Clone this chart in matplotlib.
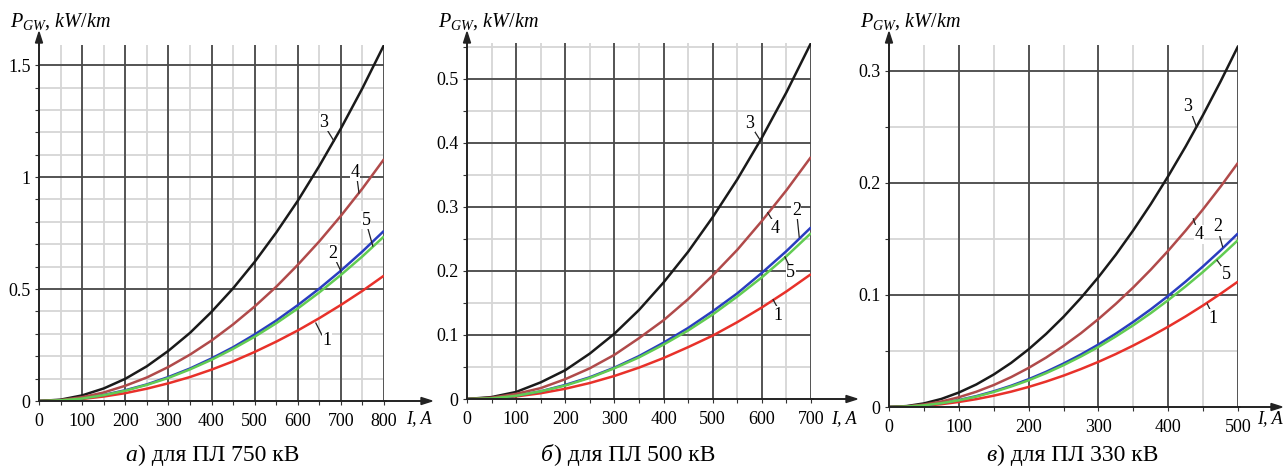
import numpy as np
import matplotlib
matplotlib.use("Agg")
import matplotlib.pyplot as plt

plt.rcParams['font.family'] = ['Liberation Serif', 'DejaVu Serif']
plt.rcParams['mathtext.fontset'] = 'custom'
plt.rcParams['mathtext.rm'] = 'Liberation Serif'
plt.rcParams['mathtext.it'] = 'Liberation Serif:italic'

# ---------------- data ----------------
current_a = [0, 50, 100, 150, 200, 250, 300, 350, 400, 450, 500, 550, 600, 650, 700, 750, 800]
a_curve1 = [0, 0.002, 0.009, 0.020, 0.035, 0.055, 0.079, 0.107, 0.140, 0.177, 0.219, 0.265, 0.315, 0.370, 0.429, 0.492, 0.560]
a_curve2 = [0, 0.003, 0.012, 0.027, 0.048, 0.074, 0.107, 0.145, 0.190, 0.240, 0.297, 0.359, 0.428, 0.502, 0.582, 0.668, 0.760]
a_curve3 = [0, 0.006, 0.025, 0.056, 0.099, 0.155, 0.224, 0.304, 0.398, 0.503, 0.621, 0.752, 0.894, 1.050, 1.217, 1.397, 1.590]
a_curve4 = [0, 0.004, 0.017, 0.038, 0.068, 0.105, 0.152, 0.207, 0.270, 0.342, 0.422, 0.510, 0.608, 0.713, 0.827, 0.949, 1.080]
a_curve5 = [0, 0.003, 0.011, 0.026, 0.046, 0.072, 0.103, 0.141, 0.184, 0.233, 0.287, 0.347, 0.413, 0.485, 0.563, 0.646, 0.735]

current_b = [0, 50, 100, 150, 200, 250, 300, 350, 400, 450, 500, 550, 600, 650, 700]
b_curve1 = [0, 0.001, 0.004, 0.009, 0.016, 0.025, 0.036, 0.049, 0.064, 0.081, 0.099, 0.120, 0.143, 0.168, 0.195]
b_curve2 = [0, 0.001, 0.005, 0.012, 0.022, 0.034, 0.049, 0.067, 0.088, 0.111, 0.137, 0.165, 0.197, 0.231, 0.268]
b_curve3 = [0, 0.003, 0.011, 0.026, 0.045, 0.071, 0.102, 0.139, 0.182, 0.230, 0.284, 0.343, 0.408, 0.479, 0.556]
b_curve4 = [0, 0.002, 0.008, 0.017, 0.031, 0.048, 0.069, 0.095, 0.123, 0.156, 0.193, 0.233, 0.278, 0.326, 0.378]
b_curve5 = [0, 0.001, 0.005, 0.012, 0.021, 0.033, 0.048, 0.065, 0.085, 0.107, 0.132, 0.160, 0.190, 0.223, 0.259]

current_c = [0, 25, 50, 75, 100, 125, 150, 175, 200, 225, 250, 275, 300, 325, 350, 375, 400, 425, 450, 475, 500]
c_curve1 = [0, 0.0003, 0.0011, 0.0025, 0.0045, 0.0070, 0.0101, 0.0137, 0.0179, 0.0227, 0.0280, 0.0339, 0.0403, 0.0473, 0.0549, 0.0630, 0.0717, 0.0809, 0.0907, 0.1011, 0.112]
c_curve2 = [0, 0.0004, 0.0016, 0.0035, 0.0062, 0.0097, 0.0140, 0.0190, 0.0248, 0.0314, 0.0388, 0.0469, 0.0558, 0.0655, 0.0760, 0.0872, 0.0992, 0.1120, 0.1256, 0.1399, 0.155]
c_curve3 = [0, 0.0008, 0.0032, 0.0072, 0.0129, 0.0201, 0.0290, 0.0394, 0.0515, 0.0652, 0.0805, 0.0974, 0.1159, 0.1360, 0.1578, 0.1811, 0.2061, 0.2326, 0.2608, 0.2906, 0.322]
c_curve4 = [0, 0.0005, 0.0022, 0.0049, 0.0087, 0.0136, 0.0196, 0.0267, 0.0349, 0.0441, 0.0545, 0.0659, 0.0785, 0.0921, 0.1068, 0.1226, 0.1395, 0.1575, 0.1766, 0.1967, 0.218]
c_curve5 = [0, 0.0004, 0.0015, 0.0034, 0.0060, 0.0093, 0.0134, 0.0183, 0.0238, 0.0302, 0.0373, 0.0451, 0.0536, 0.0630, 0.0730, 0.0838, 0.0954, 0.1077, 0.1207, 0.1345, 0.149]

curve_names = ['1', '2', '3', '4', '5']
captions_letter = ['а', 'б', 'в']
captions_rest = [') для ПЛ 750 кВ', ') для ПЛ 500 кВ', ') для ПЛ 330 кВ']
a_yticks = [0, 0.5, 1, 1.5]
a_yticklabels = ['0', '0.5', '1', '1.5']
b_yticks = [0, 0.1, 0.2, 0.3, 0.4, 0.5]
b_yticklabels = ['0', '0.1', '0.2', '0.3', '0.4', '0.5']
c_yticks = [0, 0.1, 0.2, 0.3]
c_yticklabels = ['0', '0.1', '0.2', '0.3']

# ---------------- styling ----------------
colors = {'1': '#e8312a', '2': '#2a3dc0', '3': '#1a1a1a', '4': '#b04a4a', '5': '#62cc52'}
W, H = 1287, 472
fig = plt.figure(figsize=(W / 100, H / 100), dpi=100)

def px_rect(l, r, b, t):
    return [l / W, 1 - b / H, (r - l) / W, (b - t) / H]

panels = [
    dict(px=(39, 384, 401, 45), x=current_a,
         ys=[a_curve1, a_curve2, a_curve3, a_curve4, a_curve5],
         xmax=800, ymax=1.59, xmaj=100, xmin=50, ymaj=0.5, ymin=0.1,
         yt=a_yticks, ytl=a_yticklabels, xtip=432, ylabel_px=10, ia_px=406,
         cap_center=212,
         labels=[('3', (661, 1.246), (670, 1.205), (684, 1.161)),
                 ('4', (733, 1.022), (738, 0.987), (742, 0.929)),
                 ('5', (758, 0.808), (763, 0.768), (774, 0.692)),
                 ('2', (682, 0.661), (689, 0.625), (700, 0.580)),
                 ('1', (668, 0.272), (656, 0.295), (642, 0.348))]),
    dict(px=(467, 811, 399, 43), x=current_b,
         ys=[b_curve1, b_curve2, b_curve3, b_curve4, b_curve5],
         xmax=700, ymax=0.556, xmaj=100, xmin=50, ymaj=0.1, ymin=0.05,
         yt=b_yticks, ytl=b_yticklabels, xtip=857, ylabel_px=438, ia_px=831,
         cap_center=628,
         labels=[('3', (576, 0.431), (586, 0.417), (596, 0.405)),
                 ('4', (627, 0.267), (621, 0.280), (612, 0.291)),
                 ('2', (670, 0.295), (672, 0.283), (676, 0.253)),
                 ('5', (659, 0.197), (655, 0.209), (647, 0.222)),
                 ('1', (633, 0.131), (631, 0.144), (623, 0.155))]),
    dict(px=(889, 1238, 407, 45), x=current_c,
         ys=[c_curve1, c_curve2, c_curve3, c_curve4, c_curve5],
         xmax=500, ymax=0.3232, xmaj=100, xmin=50, ymaj=0.1, ymin=0.05,
         yt=c_yticks, ytl=c_yticklabels, xtip=1282, ylabel_px=860, ia_px=1257,
         cap_center=1072,
         labels=[('3', (428, 0.268), (434, 0.261), (440, 0.251)),
                 ('4', (444, 0.154), (440, 0.161), (436, 0.168)),
                 ('2', (471, 0.161), (474, 0.152), (478, 0.143)),
                 ('5', (483, 0.118), (477, 0.125), (470, 0.131)),
                 ('1', (464, 0.079), (460, 0.087), (456, 0.092))]),
]

major_c = '#4a4a4a'
minor_c = '#d6d6d6'
axis_c = '#222222'
tick_fs = 13

for i, p in enumerate(panels):
    l, r, b, t = p['px']
    ax = fig.add_axes(px_rect(l, r, b, t))
    ax.set_xlim(0, p['xmax'])
    ax.set_ylim(0, p['ymax'])
    for s in ax.spines.values():
        s.set_visible(False)
    # minor grid
    for xv in np.arange(p['xmin'], p['xmax'] + 1e-9, p['xmin']):
        ax.axvline(xv, color=minor_c, lw=1.3, zorder=0)
    for yv in np.arange(p['ymin'], p['ymax'] + 1e-9, p['ymin']):
        ax.axhline(yv, color=minor_c, lw=1.3, zorder=0)
    # major grid
    for xv in np.arange(p['xmaj'], p['xmax'] + 1e-9, p['xmaj']):
        ax.axvline(xv, color=major_c, lw=1.3, zorder=1)
    for yv in np.arange(p['ymaj'], p['ymax'] + 1e-9, p['ymaj']):
        ax.axhline(yv, color=major_c, lw=1.3, zorder=1)
    # curves
    for name, yv in zip(curve_names, p['ys']):
        ax.plot(p['x'], yv, color=colors[name], lw=1.8, zorder=3,
                solid_joinstyle='round', solid_capstyle='butt')
    # curve labels with leaders
    for name, txy, l0, l1 in p['labels']:
        ax.plot([l0[0], l1[0]], [l0[1], l1[1]], color='#222222', lw=0.9, zorder=4)
        ax.text(txy[0], txy[1], name, fontsize=13, ha='center', va='center', zorder=5,
                bbox=dict(facecolor='white', edgecolor='none', pad=0.5))
    # ticks
    xt = np.arange(0, p['xmax'] + 1e-9, p['xmaj'])
    ax.set_xticks(xt)
    ax.set_xticklabels([str(int(v)) for v in xt])
    ax.set_xticks(np.arange(0, p['xmax'] + 1e-9, p['xmin']), minor=True)
    ax.set_yticks(p['yt'])
    ax.set_yticklabels(p['ytl'])
    ax.set_yticks(np.arange(0, p['ymax'] + 1e-9, p['ymin']), minor=True)
    ax.tick_params(axis='both', which='both', direction='out', length=3, width=0.8,
                   color='#333333', labelsize=tick_fs, pad=3)
    ax.tick_params(axis='x', which='major', pad=6)
    # axes lines with arrows (figure pixel coordinates, origin bottom-left)
    fig.add_artist(plt.Line2D([l, l], [H - b, H - t + 2], transform=None,
                              color=axis_c, lw=1.4, zorder=6))
    fig.add_artist(plt.Line2D([l, r + 2], [H - b, H - b], transform=None,
                              color=axis_c, lw=1.4, zorder=6))
    fig.add_artist(plt.Line2D([r, p['xtip'] - 6], [H - b, H - b], transform=None,
                              color=axis_c, lw=1.4, zorder=6))
    fig.add_artist(plt.Line2D([l, l], [H - t, H - 38], transform=None,
                              color=axis_c, lw=1.4, zorder=6))
    fig.add_artist(plt.Polygon([[p['xtip'], H - b], [p['xtip'] - 11, H - b + 3.5],
                                [p['xtip'] - 11, H - b - 3.5]], closed=True,
                               transform=None, color=axis_c, zorder=6))
    fig.add_artist(plt.Polygon([[l, H - 32], [l - 3.5, H - 43], [l + 3.5, H - 43]],
                               closed=True, transform=None, color=axis_c, zorder=6))
    # axis titles
    fig.text(p['ylabel_px'] / W, 1 - 27 / H,
             r'$P_{\mathit{GW}}$, $\mathit{kW/km}$',
             fontsize=14.5, ha='left', va='baseline')
    fig.text(p['ia_px'] / W, 1 - 419 / H, 'I, A', fontsize=tick_fs, style='italic',
             ha='left', va='center')

fig.canvas.draw()
renderer = fig.canvas.get_renderer()
for i, p in enumerate(panels):
    t1 = fig.text(0, 0, captions_letter[i], fontsize=17, style='italic', va='baseline')
    t2 = fig.text(0, 0, captions_rest[i], fontsize=17, va='baseline')
    w1 = t1.get_window_extent(renderer).width
    w2 = t2.get_window_extent(renderer).width
    x0 = p['cap_center'] - (w1 + w2) / 2
    yb = 1 - 461 / H
    t1.set_position((x0 / W, yb))
    t2.set_position(((x0 + w1 + 1) / W, yb))

fig.savefig('out.png', dpi=100, facecolor='white')
